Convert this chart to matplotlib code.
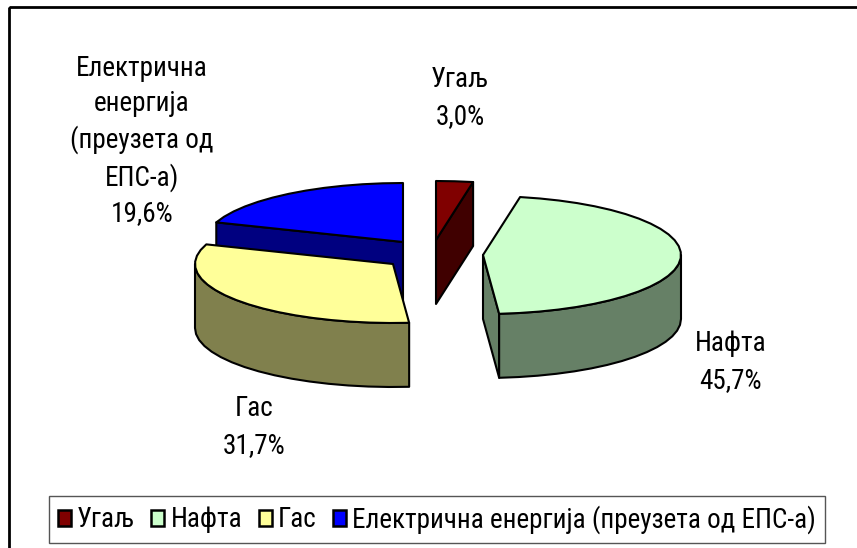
import numpy as np
import matplotlib
matplotlib.use('Agg')
import matplotlib.pyplot as plt
from matplotlib.patches import Polygon, Patch, Rectangle

plt.rcParams['font.family'] = ['Roboto Condensed', 'Liberation Sans', 'DejaVu Sans']

# podaci
labels = ['Угаљ', 'Нафта', 'Гас', 'Електрична енергија (преузета од ЕПС-а)']
values = [3.0, 45.7, 31.7, 19.6]
value_text = ['3,0%', '45,7%', '31,7%', '19,6%']
top_colors = ['#800000', '#CCFFCC', '#FFFF99', '#0000FF']
side_colors = ['#400000', '#668066', '#80804D', '#000080']

# layout u pikselima slike
tips = [(436, 240), (483, 255), (393, 264), (403, 242)]
label_text = ['Угаљ', 'Нафта', 'Гас', 'Електрична\nенергија\n(преузета од\nЕПС-а)']
label_pos = [(460, 98), (731, 362), (254, 427), (142, 141)]
label_spacing = [1.5, 1.5, 1.5, 1.38]
draw_order = [3, 2, 0, 1]
RX, RY, DEPTH = 198, 59, 64
FS = 19.5


def arc(tip, a0, a1):
    t = np.radians(np.linspace(a0, a1, max(int(abs(a1 - a0)) // 6 + 2, 2)))
    return np.column_stack([tip[0] + RX * np.sin(t), tip[1] - RY * np.cos(t)])


def face(ax, pts, color):
    ax.add_patch(Polygon(pts, closed=True, facecolor=color, edgecolor='black', lw=1.5, joinstyle='round'))


def draw_slice(ax, tip, a0, a1, top, side):
    down = np.array([0, DEPTH])
    # rezovi
    for ang, sign in ((a1, 1), (a0, -1)):
        if sign * np.sin(np.radians(ang)) > 1e-6:
            p = arc(tip, ang, ang)[0]
            t = np.array(tip)
            face(ax, [t, p, p + down, t + down], side)
    # spoljni zid
    w0, w1 = max(a0, 90), min(a1, 270)
    if w1 > w0:
        outer = arc(tip, w0, w1)
        face(ax, np.vstack([outer, (outer + down)[::-1]]), side)
    # gornja strana
    face(ax, np.vstack([[tip], arc(tip, a0, a1)]), top)


fig = plt.figure(figsize=(8.57, 5.48), dpi=100)
ax = fig.add_axes([0, 0, 1, 1])
ax.set_xlim(0, 857)
ax.set_ylim(548, 0)
ax.axis('off')

# okvir ide preko ivice slike
ax.add_patch(Rectangle((9, 7), 900, 600, fill=False, edgecolor='black', lw=2))

edges = np.cumsum([0] + values) / sum(values) * 360
for i in draw_order:
    draw_slice(ax, tips[i], edges[i], edges[i + 1], top_colors[i], side_colors[i])

for i in range(4):
    ax.text(label_pos[i][0], label_pos[i][1], label_text[i] + '\n' + value_text[i], ha='center', va='center',
            fontsize=FS, linespacing=label_spacing[i], color='black')

handles = [Patch(facecolor=c, edgecolor='black', lw=1.8) for c in top_colors]
leg = ax.legend(handles, labels, ncol=4, loc='center', bbox_to_anchor=(437 / 857, 1 - 519.5 / 548),
                fontsize=FS, frameon=True, fancybox=False, edgecolor='#555555', framealpha=1,
                handlelength=0.48, handleheight=0.52, handletextpad=0.22, columnspacing=0.62, borderpad=0.33)
leg.get_frame().set_linewidth(1)

fig.savefig('out.png', dpi=100)
